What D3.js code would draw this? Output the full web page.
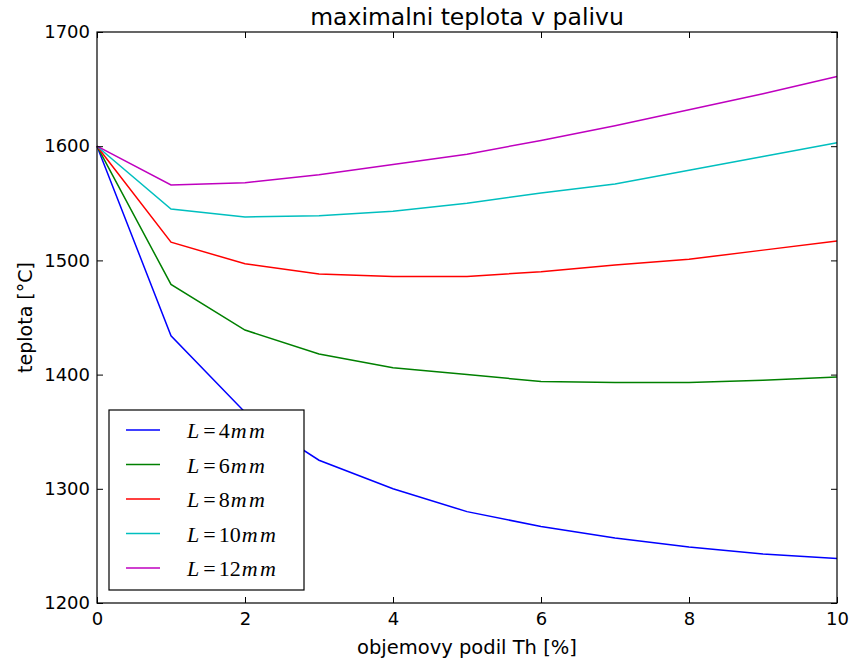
<!DOCTYPE html>
<html lang="en">
<head>
<meta charset="UTF-8">
<title>maximalni teplota v palivu</title>
<script src="https://cdn.jsdelivr.net/npm/d3@7"></script>
<style>
body { margin: 0; background: #fff; }
text { font-family: "DejaVu Sans", sans-serif; fill: #000; }
.leg text { font-family: "Liberation Serif", "DejaVu Serif", serif; }
</style>
</head>
<body>
<svg id="chart" width="850" height="661"></svg>
<script>

// Th volume share [%]
const xs = [0, 1, 2, 3, 4, 5, 6, 7, 8, 9, 10];

const L4  = [1600, 1434, 1367, 1325, 1300, 1280, 1267, 1257, 1249, 1243, 1239];
const L6  = [1600, 1479, 1439, 1418, 1406, 1400, 1394, 1393, 1393, 1395, 1398];
const L8  = [1600, 1516, 1497, 1488, 1486, 1486, 1490, 1496, 1501, 1509, 1517];
const L10 = [1600, 1545, 1538, 1539, 1543, 1550, 1559, 1567, 1579, 1591, 1603];
const L12 = [1600, 1566, 1568, 1575, 1584, 1593, 1605, 1618, 1632, 1646, 1661];

const seriesNames = ["4", "6", "8", "10", "12"];
const seriesColors = ["#0000ff", "#008000", "#ff0000", "#00bfbf", "#bf00bf"];
const seriesData = [L4, L6, L8, L10, L12];

const xTicks = [0, 2, 4, 6, 8, 10];
const yTicks = [1200, 1300, 1400, 1500, 1600, 1700];

const svg = d3.select("#chart");
const pLeft = 97, pRight = 837, pTop = 32, pBottom = 603;

const x = d3.scaleLinear().domain([0, 10]).range([pLeft, pRight]);
const y = d3.scaleLinear().domain([1200, 1700]).range([pBottom, pTop]);

// lines first, frame on top
const line = d3.line().x((d, i) => x(xs[i])).y(d => y(d));
seriesData.forEach((s, k) => {
	svg.append("path")
		.datum(s)
		.attr("d", line)
		.attr("fill", "none")
		.attr("stroke", seriesColors[k])
		.attr("stroke-width", 1.5);
});

// axes: ticks inside on all four sides (classic matplotlib)
const tl = 6;
const xb = svg.append("g").attr("transform", `translate(0,${pBottom})`)
	.call(d3.axisBottom(x).tickValues(xTicks).tickFormat(d3.format("d")).tickSizeInner(-tl).tickSizeOuter(0).tickPadding(8));
const xt = svg.append("g").attr("transform", `translate(0,${pTop})`)
	.call(d3.axisTop(x).tickValues(xTicks).tickSizeInner(-tl).tickSizeOuter(0).tickFormat(""));
const yl = svg.append("g").attr("transform", `translate(${pLeft},0)`)
	.call(d3.axisLeft(y).tickValues(yTicks).tickFormat(d3.format("d")).tickSizeInner(-tl).tickSizeOuter(0).tickPadding(7));
const yr = svg.append("g").attr("transform", `translate(${pRight},0)`)
	.call(d3.axisRight(y).tickValues(yTicks).tickSizeInner(-tl).tickSizeOuter(0).tickFormat(""));

[xb, xt, yl, yr].forEach(g => {
	g.select(".domain").remove();
	g.selectAll("line").attr("stroke", "#000").attr("stroke-width", 1);
	g.selectAll("text").style("font-family", "'DejaVu Sans', sans-serif").style("font-size", "18px").attr("fill", "#000");
});
xb.selectAll("text").attr("y", 0).attr("dy", null).attr("transform", "translate(0,22)");

svg.append("rect")
	.attr("x", pLeft).attr("y", pTop)
	.attr("width", pRight - pLeft).attr("height", pBottom - pTop)
	.attr("fill", "none").attr("stroke", "#000").attr("stroke-width", 1.2);

// titles
svg.append("text").attr("x", (pLeft + pRight) / 2).attr("y", 25)
	.attr("text-anchor", "middle").style("font-size", "23.5px")
	.text("maximalni teplota v palivu");
svg.append("text").attr("x", (pLeft + pRight) / 2).attr("y", 654)
	.attr("text-anchor", "middle").style("font-size", "19.5px")
	.text("objemovy podil Th [%]");
svg.append("text")
	.attr("transform", `translate(32,${(pTop + pBottom) / 2}) rotate(-90)`)
	.attr("text-anchor", "middle").style("font-size", "19px")
	.text("teplota [°C]");

// legend
const leg = svg.append("g").attr("class", "leg");
leg.append("rect")
	.attr("x", 109).attr("y", 410).attr("width", 195).attr("height", 180)
	.attr("fill", "#fff").attr("stroke", "#000").attr("stroke-width", 1.2);
seriesNames.forEach((n, k) => {
	const ly = 430 + k * 34.5;
	leg.append("line")
		.attr("x1", 126).attr("x2", 160).attr("y1", ly).attr("y2", ly)
		.attr("stroke", seriesColors[k]).attr("stroke-width", 1.5);
	const t = leg.append("text").attr("x", 187).attr("y", ly + 8).style("font-size", "22px");
	t.append("tspan").style("font-style", "italic").text("L");
	t.append("tspan").attr("dx", 4).text("=");
	t.append("tspan").attr("dx", 3).text(n);
	t.append("tspan").attr("dx", 1).style("font-style", "italic").style("letter-spacing", "2.5px").text("mm");
});

</script>
</body>
</html>
